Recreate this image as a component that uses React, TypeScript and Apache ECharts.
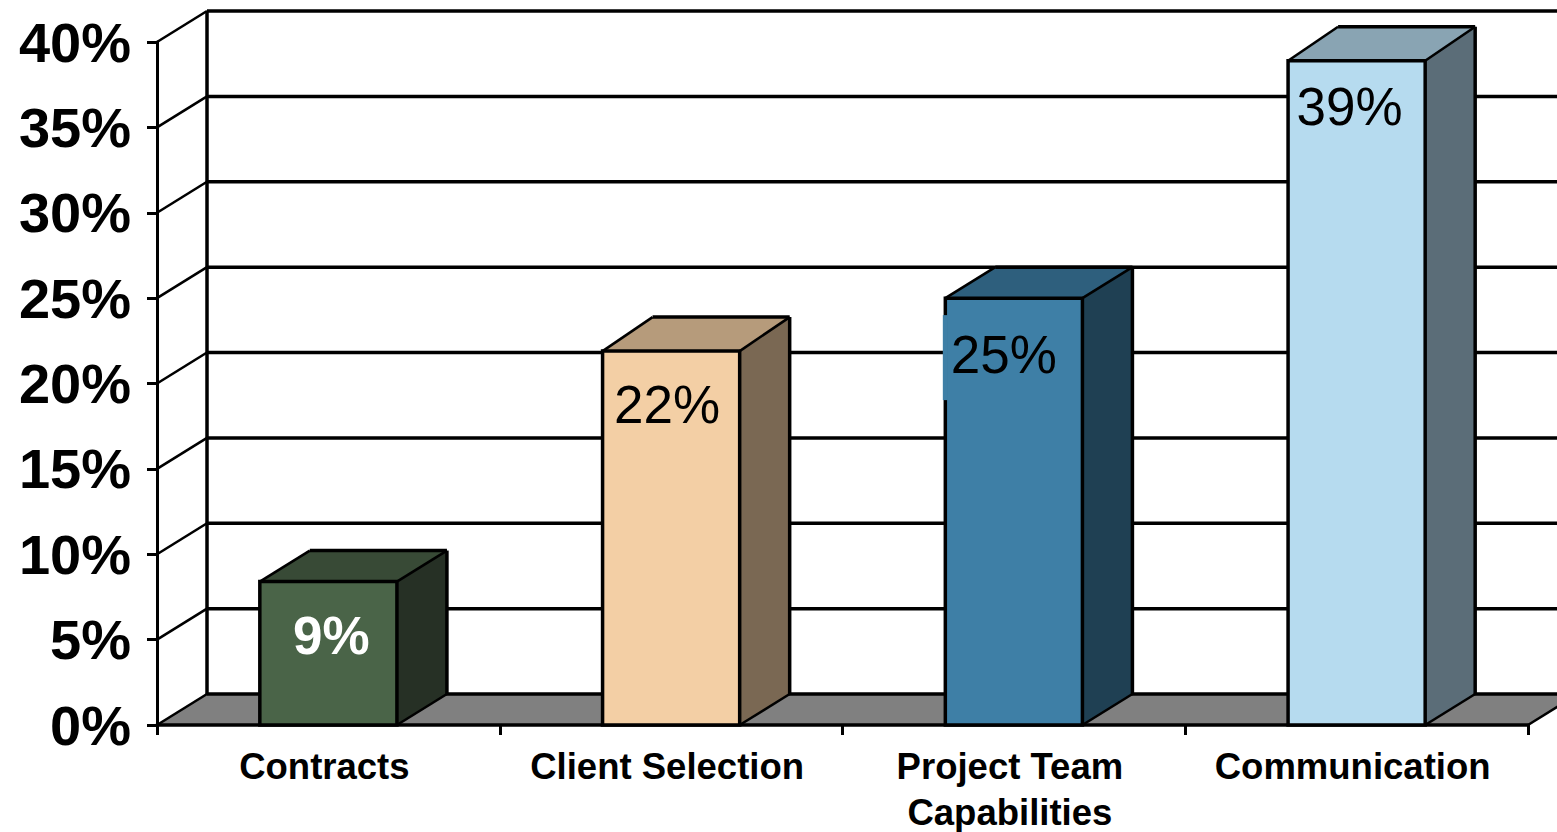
import React, { useEffect, useRef } from "react";
import * as echarts from "echarts";

const categories = ["Contracts", "Client Selection", "Project Team\nCapabilities", "Communication"];
const barHeights = [8.4, 21.9, 25, 38.9];
const valueLabels = ["9%", "22%", "25%", "39%"];
const labelColors = ["#FFFFFF", "#000000", "#000000", "#000000"];
const frontColors = ["#4A6448", "#F3CFA5", "#3E7FA6", "#B6DBEF"];
const topColors = ["#384A36", "#B69B7B", "#2E5F7D", "#89A4B3"];
const sideColors = ["#263025", "#7A6853", "#1F4053", "#5B6D78"];
const wallTicks = [0, 5, 10, 15, 20, 25, 30, 35, 40];

// Oblique projection of the depth axis, in pixels.
const DX = 50;
const DY = 31;
const LW = 3.5;
const FONT = '"Liberation Sans", Arial, sans-serif';
// Label nudges relative to the bar's front face (dx from centre, dy from top).
const labelNudgeX = [3, -4, -10, -7];
const labelNudgeY = [54, 53, 56, 46];
// Depth of each bar's top face, which varies slightly in the source's rescaled bitmap.
const topDepth = [31, 34, 31, 34];

export default function App() {
  const ref = useRef<HTMLDivElement>(null);
  useEffect(() => {
    document.body.style.margin = "0";
    const chart = echarts.init(ref.current!, undefined, { renderer: "svg" });
    const black = { stroke: "#000", lineWidth: LW };
    const thin = { stroke: "#000", lineWidth: 2.6 };
    chart.setOption({
      animation: false,
      backgroundColor: "#FFFFFF",
      grid: { left: 157, top: 42, width: 1371, height: 683, containLabel: false, outerBoundsMode: "none" },
      xAxis: {
        type: "category",
        data: categories,
        axisLine: { show: true, lineStyle: { color: "#000", width: 3.5 } },
        axisTick: { show: true, length: 10, alignWithLabel: false, lineStyle: { color: "#000", width: 3 } },
        axisLabel: {
          interval: 0,
          margin: 18,
          color: "#000",
          fontFamily: FONT,
          fontWeight: "bold",
          fontSize: 36.5,
          lineHeight: 46,
          padding: [0, 8, 0, 0],
          hideOverlap: false,
        },
        splitLine: { show: false },
      },
      yAxis: {
        type: "value",
        min: 0,
        max: 40,
        interval: 5,
        axisLine: { show: true, lineStyle: { color: "#000", width: 3 } },
        axisTick: { show: true, length: 10, lineStyle: { color: "#000", width: 3 } },
        axisLabel: {
          formatter: "{value}%",
          margin: 26,
          color: "#000",
          fontFamily: FONT,
          fontWeight: "bold",
          fontSize: 56,
        },
        splitLine: { show: false },
      },
      series: [
        {
          type: "custom",
          z: -1,
          silent: true,
          coordinateSystem: "cartesian2d",
          data: wallTicks.map((v) => [0, v]),
          renderItem: (params: any, api: any) => {
            const cs = params.coordSys;
            const y = api.coord([0, api.value(1)])[1];
            const x0 = cs.x;
            const x1 = cs.x + cs.width;
            const children: any[] = [];
            if (api.value(1) === 0) {
              children.push({
                type: "polygon",
                shape: { points: [[x0, y], [x0 + DX, y - DY], [x1 + DX, y - DY], [x1, y]] },
                style: { fill: "#808080", stroke: "none" },
              });
              children.push({
                type: "line",
                shape: { x1: x1, y1: y, x2: x1 + DX, y2: y - DY },
                style: thin,
              });
              children.push({
                type: "line",
                shape: { x1: x0 + DX, y1: y - DY, x2: x0 + DX, y2: cs.y - DY },
                style: black,
              });
            }
            children.push({
              type: "line",
              shape: { x1: x0, y1: y, x2: x0 + DX, y2: y - DY },
              style: thin,
            });
            children.push({
              type: "line",
              shape: { x1: x0 + DX, y1: y - DY, x2: x1 + DX, y2: y - DY },
              style: black,
            });
            return { type: "group", children };
          },
        },
        {
          type: "custom",
          silent: true,
          coordinateSystem: "cartesian2d",
          data: barHeights.map((v, i) => [i, v]),
          renderItem: (params: any, api: any) => {
            const i = params.dataIndex;
            const base = api.coord([api.value(0), 0]);
            const top = api.coord([api.value(0), api.value(1)]);
            const w = api.size([1, 0])[0] * 0.4;
            const l = base[0] - w / 2;
            const r = base[0] + w / 2;
            const backTop = top[1] - topDepth[i];
            const children: any[] = [
              {
                type: "polygon",
                shape: { points: [[r, top[1]], [r + DX, backTop], [r + DX, base[1] - DY], [r, base[1]]] },
                style: { fill: sideColors[i], stroke: "none" },
              },
              {
                type: "polygon",
                shape: { points: [[l, top[1]], [l + DX, backTop], [r + DX, backTop], [r, top[1]]] },
                style: { fill: topColors[i], stroke: "none" },
              },
              { type: "line", shape: { x1: l, y1: top[1], x2: l + DX, y2: backTop }, style: thin },
              { type: "line", shape: { x1: r, y1: top[1], x2: r + DX, y2: backTop }, style: thin },
              { type: "line", shape: { x1: r, y1: base[1], x2: r + DX, y2: base[1] - DY }, style: thin },
              { type: "line", shape: { x1: l + DX, y1: backTop, x2: r + DX, y2: backTop }, style: black },
              { type: "line", shape: { x1: r + DX, y1: backTop, x2: r + DX, y2: base[1] - DY }, style: black },
              {
                type: "rect",
                shape: { x: l, y: top[1], width: w, height: base[1] - top[1] },
                style: { fill: frontColors[i], stroke: "#000", lineWidth: LW },
              },
            ];
            const cx = (l + r) / 2 + labelNudgeX[i];
            const cy = top[1] + labelNudgeY[i];
            if (valueLabels[i] === "25%") {
              // The source's label box erases part of the bar's left edge.
              children.push({
                type: "rect",
                shape: { x: l - 2.5, y: cy - 39, width: 5, height: 85 },
                style: { fill: frontColors[i], stroke: "none" },
              });
            }
            children.push({
              type: "text",
              style: {
                text: valueLabels[i],
                x: cx,
                y: cy,
                align: "center",
                verticalAlign: "middle",
                fill: labelColors[i],
                font: `${i === 0 ? "bold " : ""}53px ${FONT}`,
              },
            });
            return { type: "group", children };
          },
        },
      ],
    });
    return () => chart.dispose();
  }, []);
  return <div ref={ref} style={{ width: 1557, height: 832, position: "absolute", left: 0, top: 0 }} />;
}
